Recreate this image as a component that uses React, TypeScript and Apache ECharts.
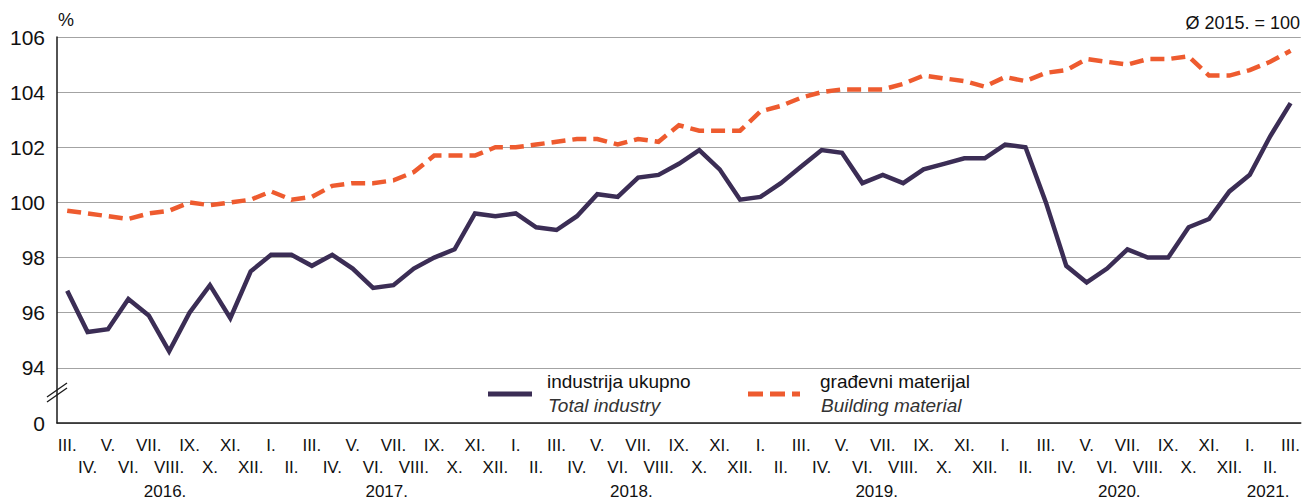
import React, { useEffect, useRef } from "react";
import * as echarts from "echarts";

const monthNames = ["I.", "II.", "III.", "IV.", "V.", "VI.", "VII.", "VIII.", "IX.", "X.", "XI.", "XII."];

// Monthly categories: III. 2016 – III. 2021
const categories: string[] = [];
for (let y = 2016; y <= 2021; y++) {
  for (let m = 0; m < 12; m++) {
    if (y === 2016 && m < 2) continue;
    if (y === 2021 && m > 2) continue;
    categories.push(monthNames[m]);
  }
}

const industry = [
  96.8, 95.3, 95.4, 96.5, 95.9, 94.6, 96.0, 97.0, 95.8, 97.5,
  98.1, 98.1, 97.7, 98.1, 97.6, 96.9, 97.0, 97.6, 98.0, 98.3, 99.6, 99.5,
  99.6, 99.1, 99.0, 99.5, 100.3, 100.2, 100.9, 101.0, 101.4, 101.9, 101.2, 100.1,
  100.2, 100.7, 101.3, 101.9, 101.8, 100.7, 101.0, 100.7, 101.2, 101.4, 101.6, 101.6,
  102.1, 102.0, 100.0, 97.7, 97.1, 97.6, 98.3, 98.0, 98.0, 99.1, 99.4, 100.4,
  101.0, 102.4, 103.6,
];

const building = [
  99.7, 99.6, 99.5, 99.4, 99.6, 99.7, 100.0, 99.9, 100.0, 100.1,
  100.4, 100.1, 100.2, 100.6, 100.7, 100.7, 100.8, 101.1, 101.7, 101.7, 101.7, 102.0,
  102.0, 102.1, 102.2, 102.3, 102.3, 102.1, 102.3, 102.2, 102.8, 102.6, 102.6, 102.6,
  103.3, 103.5, 103.8, 104.0, 104.1, 104.1, 104.1, 104.3, 104.6, 104.5, 104.4, 104.2,
  104.55, 104.4, 104.7, 104.8, 105.2, 105.1, 105.0, 105.2, 105.2, 105.3, 104.6, 104.6,
  104.8, 105.1, 105.5,
];

const yearLabels = ["2016.", "2017.", "2018.", "2019.", "2020.", "2021."];
// fractional category index at which each year label is centred
const yearLabelAt = [4.8, 15.67, 27.67, 39.7, 51.6, 58.9];

const seriesNames = ["industrija ukupno", "građevni materijal"];
const seriesNamesEn = ["Total industry", "Building material"];

const PURPLE = "#3b2d55";
const ORANGE = "#ee5b2f";
const FONT = "'Liberation Sans', Arial, sans-serif";

export default function App() {
  const ref = useRef<HTMLDivElement>(null);

  useEffect(() => {
    document.body.style.margin = "0";
    const chart = echarts.init(ref.current!, null, { renderer: "svg" });
    chart.setOption({
      animation: false,
      grid: { left: 57, right: 1, top: 37, bottom: 76, containLabel: false },
      xAxis: {
        type: "category",
        data: categories,
        boundaryGap: true,
        axisLine: { show: true, lineStyle: { color: "#1a1a1a", width: 1.5 } },
        axisTick: { show: false },
        splitLine: { show: false },
        axisLabel: {
          interval: 0,
          hideOverlap: false,
          margin: 11,
          fontFamily: FONT,
          fontSize: 17,
          lineHeight: 22,
          color: "#111",
          formatter: (v: string, i: number) => (i % 2 === 0 ? v : "\n" + v),
        },
      },
      yAxis: {
        type: "value",
        min: 92,
        max: 106,
        interval: 2,
        axisLine: { show: true, lineStyle: { color: "#1a1a1a", width: 1.5 } },
        axisTick: { show: false },
        splitLine: { show: true, lineStyle: { color: "#a3a3a3", width: 1.2 } },
        axisLabel: {
          margin: 12,
          fontFamily: FONT,
          fontSize: 21,
          color: "#111",
          formatter: (v: number) => (v === 92 ? "0" : String(v)),
        },
      },
      series: [
        {
          name: seriesNames[0],
          type: "line",
          data: industry,
          symbol: "none",
          lineStyle: { color: PURPLE, width: 4.5, join: "miter", cap: "butt" },
          z: 3,
        },
        {
          name: seriesNames[1],
          type: "line",
          data: building,
          symbol: "none",
          lineStyle: { color: ORANGE, width: 4.5, type: [14, 7], join: "miter", cap: "butt" },
          z: 2,
        },
      ],
    });

    const x0 = chart.convertToPixel({ xAxisIndex: 0 }, 0) as number;
    const x1 = chart.convertToPixel({ xAxisIndex: 0 }, 1) as number;
    const step = x1 - x0;

    const graphics: any[] = [
      {
        type: "text",
        left: 58,
        top: 11,
        style: { text: "%", font: `18px ${FONT}`, fill: "#111" },
      },
      {
        type: "text",
        right: 3,
        top: 14,
        style: { text: "Ø 2015. = 100", font: `18px ${FONT}`, fill: "#111" },
      },
      // axis break marks
      {
        type: "line",
        shape: { x1: 47, y1: 402, x2: 67, y2: 388 },
        style: { stroke: "#1a1a1a", lineWidth: 1.3 },
      },
      {
        type: "line",
        shape: { x1: 47, y1: 397, x2: 67, y2: 383 },
        style: { stroke: "#1a1a1a", lineWidth: 1.3 },
      },
      // legend
      {
        type: "line",
        shape: { x1: 488, y1: 394, x2: 532, y2: 394 },
        style: { stroke: PURPLE, lineWidth: 5 },
      },
      {
        type: "text",
        x: 547,
        y: 381,
        style: { text: seriesNames[0], font: `19px ${FONT}`, fill: "#111", verticalAlign: "middle" },
      },
      {
        type: "text",
        x: 548,
        y: 405,
        style: { text: seriesNamesEn[0], font: `italic 19px ${FONT}`, fill: "#333", verticalAlign: "middle" },
      },
      {
        type: "line",
        shape: { x1: 748, y1: 394, x2: 800, y2: 394 },
        style: { stroke: ORANGE, lineWidth: 5, lineDash: [15, 7] },
      },
      {
        type: "text",
        x: 820,
        y: 381,
        style: { text: seriesNames[1], font: `19px ${FONT}`, fill: "#111", verticalAlign: "middle" },
      },
      {
        type: "text",
        x: 821,
        y: 405,
        style: { text: seriesNamesEn[1], font: `italic 19px ${FONT}`, fill: "#333", verticalAlign: "middle" },
      },
    ];

    yearLabels.forEach((t, k) => {
      graphics.push({
        type: "text",
        x: x0 + yearLabelAt[k] * step,
        y: 491,
        style: {
          text: t,
          font: `17px ${FONT}`,
          fill: "#111",
          align: "center",
          verticalAlign: "middle",
        },
      });
    });

    chart.setOption({ graphic: graphics });

    return () => chart.dispose();
  }, []);

  return (
    <div
      ref={ref}
      style={{ position: "fixed", left: 0, top: 0, width: 1303, height: 499, background: "#fff" }}
    />
  );
}
